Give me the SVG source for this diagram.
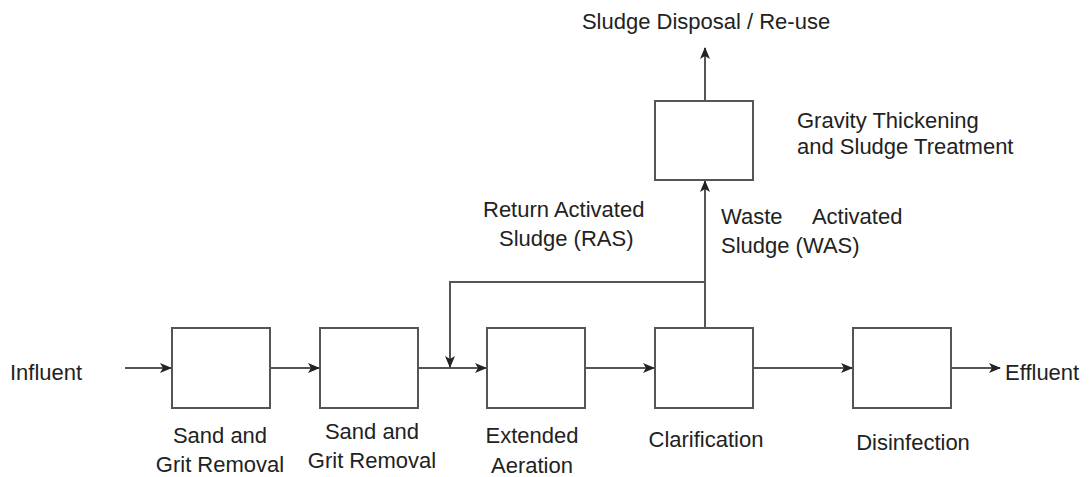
<svg xmlns="http://www.w3.org/2000/svg" width="1091" height="477" viewBox="0 0 1091 477">
<style>
.box{fill:#fff;stroke:#555;stroke-width:2}
.ln{fill:none;stroke:#555;stroke-width:2}
text{font-family:"Liberation Sans",Arial,sans-serif;font-size:22px;fill:#222}
.c{text-anchor:middle}
</style>
<defs>
<marker id="ah" markerWidth="12" markerHeight="10" refX="11" refY="5" orient="auto" markerUnits="userSpaceOnUse">
<path d="M0,0 L12,5 L0,10 L3,5 Z" fill="#222"/>
</marker>
</defs>
<rect width="1091" height="477" fill="#fff"/>
<g id="connectors">
<line class="ln" x1="125" y1="368" x2="171" y2="368" marker-end="url(#ah)"/>
<line class="ln" x1="270" y1="368" x2="319" y2="368" marker-end="url(#ah)"/>
<line class="ln" x1="418" y1="368" x2="486" y2="368" marker-end="url(#ah)"/>
<line class="ln" x1="585" y1="368" x2="654" y2="368" marker-end="url(#ah)"/>
<line class="ln" x1="753" y1="368" x2="852" y2="368" marker-end="url(#ah)"/>
<line class="ln" x1="951" y1="368" x2="1000" y2="368" marker-end="url(#ah)"/>
<line class="ln" x1="705" y1="328" x2="705" y2="181" marker-end="url(#ah)"/>
<polyline class="ln" points="705,282 450,282 450,367" marker-end="url(#ah)"/>
<line class="ln" x1="705" y1="101" x2="705" y2="48" marker-end="url(#ah)"/>
</g>
<g id="influent"><text x="10" y="380">Influent</text></g>
<g id="effluent"><text x="1005" y="380">Effluent</text></g>
<g id="sand1">
<rect class="box" x="172" y="328" width="98" height="80"/>
<text class="c" x="220" y="443">Sand and</text>
<text class="c" x="220" y="472">Grit Removal</text>
</g>
<g id="sand2">
<rect class="box" x="320" y="328" width="98" height="80"/>
<text class="c" x="372" y="439">Sand and</text>
<text class="c" x="372" y="468">Grit Removal</text>
</g>
<g id="aeration">
<rect class="box" x="487" y="328" width="98" height="80"/>
<text class="c" x="532" y="443">Extended</text>
<text class="c" x="532" y="473">Aeration</text>
</g>
<g id="clarification">
<rect class="box" x="655" y="328" width="98" height="80"/>
<text class="c" x="706" y="447">Clarification</text>
</g>
<g id="disinfection">
<rect class="box" x="853" y="328" width="98" height="80"/>
<text class="c" x="913" y="450">Disinfection</text>
</g>
<g id="thickening">
<rect class="box" x="655" y="101" width="98" height="79"/>
<text x="797" y="128">Gravity Thickening</text>
<text x="797" y="154">and Sludge Treatment</text>
</g>
<g id="disposal"><text class="c" x="706" y="29">Sludge Disposal / Re-use</text></g>
<g id="ras-label">
<text x="483" y="217">Return Activated</text>
<text x="499" y="246">Sludge (RAS)</text>
</g>
<g id="was-label">
<text x="721" y="224" xml:space="preserve">Waste     Activated</text>
<text x="721" y="253">Sludge (WAS)</text>
</g>
</svg>
